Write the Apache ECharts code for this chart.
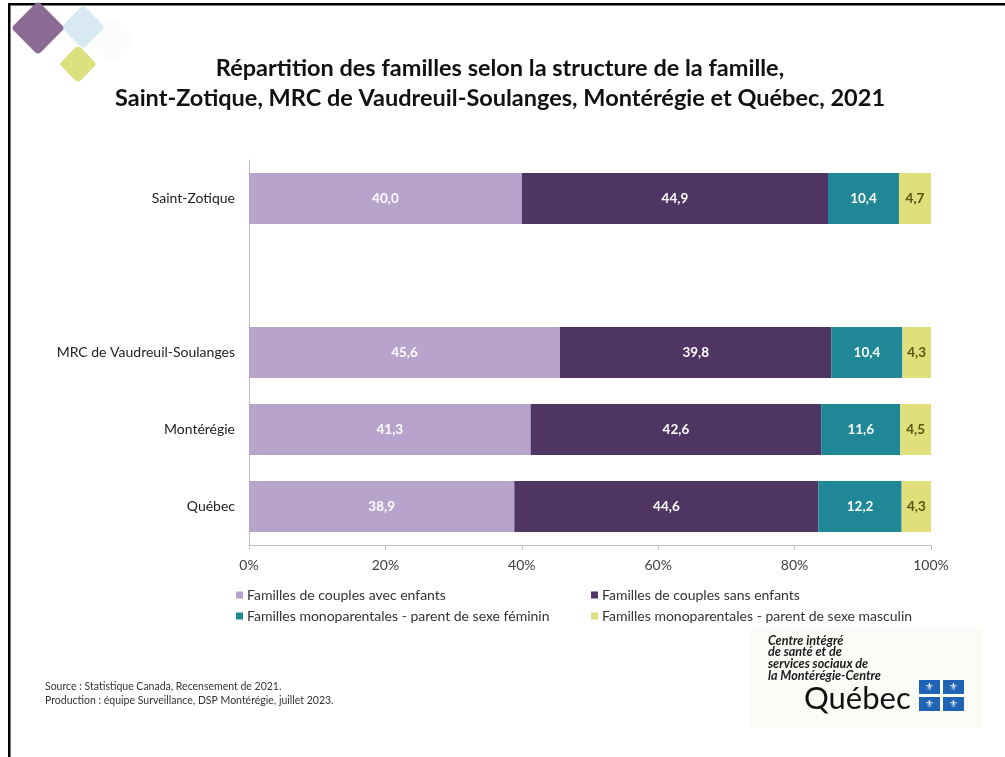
<!DOCTYPE html>
<html><head><meta charset="utf-8">
<script src="https://cdn.jsdelivr.net/npm/echarts@6/dist/echarts.min.js"></script>
<style>html,body{margin:0;padding:0;background:#fff}#c{width:1005px;height:757px}</style>
</head><body><div id="c"></div>
<script>
const categories = ['Saint-Zotique', '', 'MRC de Vaudreuil-Soulanges', 'Montérégie', 'Québec'];
const seriesNames = [
  'Familles de couples avec enfants',
  'Familles de couples sans enfants',
  'Familles monoparentales - parent de sexe féminin',
  'Familles monoparentales - parent de sexe masculin'
];
const avecEnfants = [40.0, null, 45.6, 41.3, 38.9];
const sansEnfants = [44.9, null, 39.8, 42.6, 44.6];
const monoFeminin = [10.4, null, 10.4, 11.6, 12.2];
const monoMasculin = [4.7, null, 4.3, 4.5, 4.3];
const xTicks = [0, 20, 40, 60, 80, 100];

const colors = ['#b8a3cc', '#4f3662', '#1f8796', '#dfdf7c'];
const labelColors = ['#ffffff', '#ffffff', '#ffffff', '#55550f'];
const FONT = 'Lato, "Open Sans", sans-serif';
const values = [avecEnfants, sansEnfants, monoFeminin, monoMasculin];

const chart = echarts.init(document.getElementById('c'), null, {renderer: 'canvas'});

const series = seriesNames.map((n, i) => ({
  name: n, type: 'bar', stack: 'total', barWidth: 51,
  data: values[i].map(v => v == null ? '-' : v),
  itemStyle: {color: colors[i]},
  label: {
    show: true, position: 'inside', color: labelColors[i],
    fontFamily: FONT, fontWeight: 'bold', fontSize: 13.5,
    formatter: p => (typeof p.value === 'number') ? p.value.toFixed(1).replace('.', ',') : ''
  }
}));

const diamond = (cx, cy, r, color) => ({
  type: 'rect', x: cx, y: cy, rotation: Math.PI / 4, originX: 0, originY: 0,
  shape: {x: -r / Math.SQRT2, y: -r / Math.SQRT2, width: r * Math.SQRT2, height: r * Math.SQRT2, r: 4},
  style: {fill: color}, silent: true
});

const logoLines = ['Centre intégré', 'de santé et de', 'services sociaux de', 'la Montérégie-Centre'];

const graphics = [
  // frame
  {type: 'rect', shape: {x: 8, y: 3, width: 1000, height: 2.5}, style: {fill: '#000'}},
  {type: 'rect', shape: {x: 8, y: 3, width: 2.5, height: 760}, style: {fill: '#000'}},
  // decorative diamonds
  diamond(112, 40, 24, '#fcfcfd'),
  diamond(83, 27, 22, '#d8e9f1'),
  diamond(38, 28, 27, '#8b6b94'),
  diamond(78, 64, 19, '#dce07e'),
  // source
  {type: 'text', left: 45, top: 681, style: {text: 'Source : Statistique Canada, Recensement de 2021.', font: '10.5px ' + FONT, fill: '#333'}},
  {type: 'text', left: 45, top: 695, style: {text: 'Production : équipe Surveillance, DSP Montérégie, juillet 2023.', font: '10.5px ' + FONT, fill: '#333'}},
  // logo background
  {type: 'rect', shape: {x: 750, y: 627, width: 232, height: 100}, style: {fill: '#fbfbf8'}},
];
logoLines.forEach((t, i) => graphics.push({
  type: 'text', left: 768, top: 634 + i * 11.8,
  style: {text: t, font: 'italic bold 12.6px ' + FONT, fill: '#1a1a1a'}
}));
graphics.push({type: 'text', left: 804, top: 683, style: {text: 'Québec', font: '31px ' + FONT, fill: '#111'}});
[[919, 680], [943, 680], [919, 697], [943, 697]].forEach(([x, y]) => {
  graphics.push({type: 'rect', shape: {x: x, y: y, width: 21, height: 14}, style: {fill: '#1f64b4'}});
  graphics.push({type: 'text', x: x + 10.5, y: y + 7, style: {text: '⚜', font: '10px "DejaVu Sans"', fill: '#fff', align: 'center', verticalAlign: 'middle'}});
});

chart.setOption({
  animation: false,
  backgroundColor: '#fff',
  title: {
    text: 'Répartition des familles selon la structure de la famille,\nSaint-Zotique, MRC de Vaudreuil-Soulanges, Montérégie et Québec, 2021',
    left: 495, top: 48, textAlign: 'center',
    textStyle: {fontFamily: FONT, fontWeight: 'bold', fontSize: 23.5, color: '#111', lineHeight: 30}
  },
  grid: {left: 249, right: 74, top: 160, bottom: 212, containLabel: false},
  xAxis: {
    type: 'value', min: 0, max: 100, interval: 20,
    axisLine: {show: true, lineStyle: {color: '#bfbfbf'}},
    axisTick: {show: true, length: 5, lineStyle: {color: '#bfbfbf'}},
    splitLine: {show: false},
    axisLabel: {formatter: v => xTicks.includes(v) ? v + '%' : '', fontFamily: FONT, fontSize: 14, color: '#404040', margin: 13}
  },
  yAxis: {
    type: 'category', data: categories, inverse: true,
    axisLine: {show: true, lineStyle: {color: '#bfbfbf'}},
    axisTick: {show: false},
    axisLabel: {fontFamily: FONT, fontSize: 14, color: '#222', margin: 14}
  },
  legend: [
    {data: [seriesNames[0], seriesNames[2]], orient: 'vertical', left: 231, top: 583, itemWidth: 7, itemHeight: 7, itemGap: 7, icon: 'rect',
     textStyle: {fontFamily: FONT, fontSize: 14, color: '#333', padding: [0, 0, 0, -1]}},
    {data: [seriesNames[1], seriesNames[3]], orient: 'vertical', left: 586, top: 583, itemWidth: 7, itemHeight: 7, itemGap: 7, icon: 'rect',
     textStyle: {fontFamily: FONT, fontSize: 14, color: '#333', padding: [0, 0, 0, -1]}}
  ],
  series: series,
  graphic: graphics
});
</script></body></html>
